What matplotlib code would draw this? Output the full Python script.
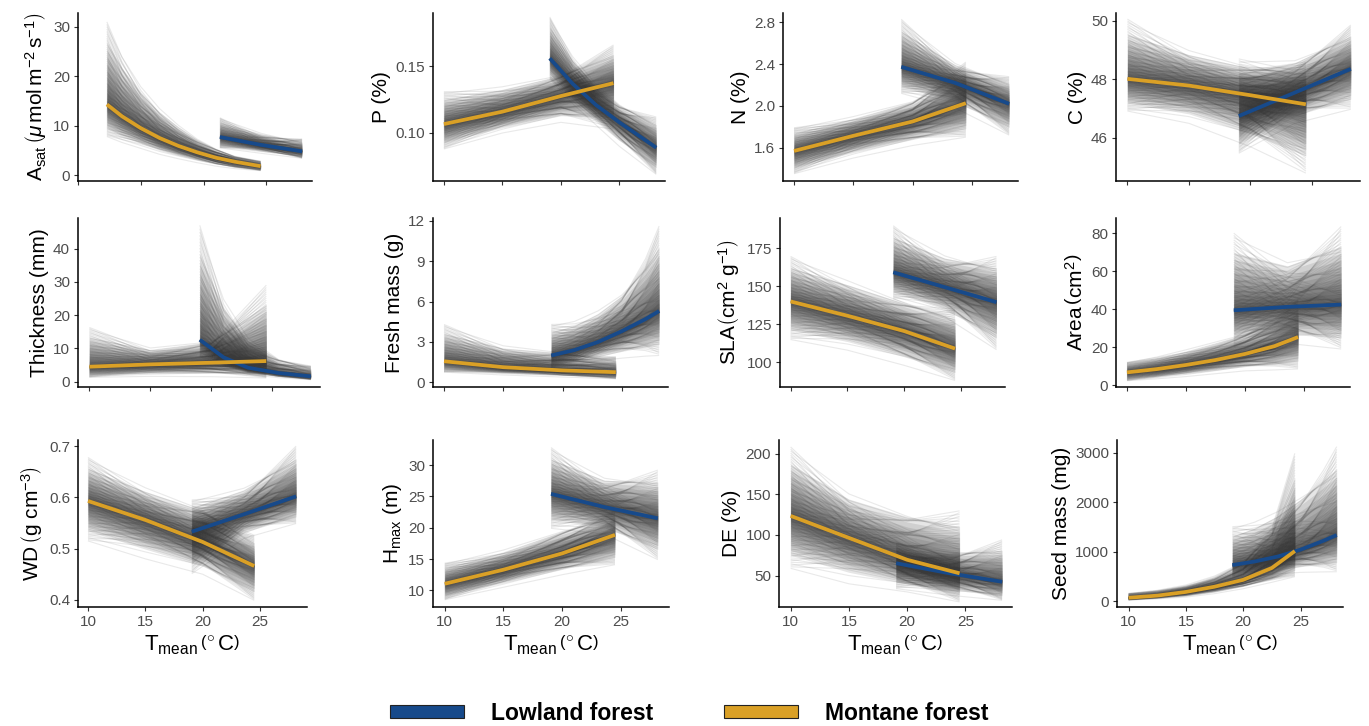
import numpy as np
import matplotlib
matplotlib.use('Agg')
import matplotlib.pyplot as plt
from matplotlib.patches import Patch
from matplotlib.collections import LineCollection

plt.rcParams['font.family'] = ['Liberation Sans', 'DejaVu Sans']
plt.rcParams['mathtext.fontset'] = 'custom'
plt.rcParams['mathtext.rm'] = 'Liberation Sans'
plt.rcParams['mathtext.it'] = 'Liberation Sans:italic'
plt.rcParams['mathtext.bf'] = 'Liberation Sans:bold'
plt.rcParams['mathtext.sf'] = 'Liberation Sans'

LOW_COL = '#174a8b'
MON_COL = '#daa026'

# ---------------- data ----------------
mon_x = [10, 15, 20, 24.5]
low_x = [19.05, 23.6, 28.15]

# A_sat
asat_mon_x = [12.3, 13.5, 15, 16.5, 18, 19.5, 21, 22.5, 24.55]
asat_mon_mean = [14.3, 11.9, 9.5, 7.5, 5.9, 4.6, 3.5, 2.7, 1.8]
asat_mon_lo = [7.8, 6.6, 5.4, 4.2, 3.3, 2.5, 1.8, 1.3, 0.9]
asat_mon_hi = [31.0, 25.0, 19.0, 14.5, 11.0, 8.0, 5.8, 4.0, 2.8]
asat_low_x = [21.3, 24.6, 27.85]
asat_low_mean = [7.7, 6.1, 4.8]
asat_low_lo = [5.5, 4.4, 3.4]
asat_low_hi = [11.6, 9.0, 7.3]

# P
p_mon_mean = [0.1067, 0.116, 0.1277, 0.1374]
p_mon_lo = [0.088, 0.100, 0.108, 0.103]
p_mon_hi = [0.131, 0.138, 0.148, 0.166]
p_low_x = [19.05, 21, 23, 25, 28.15]
p_low_mean = [0.156, 0.137, 0.121, 0.108, 0.089]
p_low_lo = [0.1405, 0.122, 0.106, 0.090, 0.069]
p_low_hi = [0.187, 0.160, 0.140, 0.125, 0.112]

# N
n_mon_mean = [1.568, 1.713, 1.85, 2.026]
n_mon_lo = [1.35, 1.50, 1.62, 1.70]
n_mon_hi = [1.79, 1.93, 2.10, 2.42]
n_low_mean = [2.374, 2.22, 2.02]
n_low_lo = [2.12, 1.98, 1.72]
n_low_hi = [2.83, 2.45, 2.28]

# C
c_mon_mean = [48.02, 47.79, 47.46, 47.15]
c_mon_lo = [46.92, 46.5, 45.7, 44.8]
c_mon_hi = [50.06, 49.2, 48.7, 48.6]
c_low_mean = [46.75, 47.55, 48.36]
c_low_lo = [45.48, 46.5, 46.98]
c_low_hi = [48.7, 48.9, 49.86]

# Thickness
th_mon_mean = [4.5, 5.2, 5.7, 6.2]
th_mon_lo = [1.3, 1.6, 1.5, 1.1]
th_mon_hi = [16.3, 11.0, 14.0, 29.0]
th_low_x = [19.05, 21, 23, 25.5, 28.15]
th_low_mean = [12.6, 7.3, 4.2, 2.6, 1.6]
th_low_lo = [7.5, 4.0, 2.2, 1.2, 0.6]
th_low_hi = [47.0, 27.0, 15.0, 8.0, 4.7]

# Fresh mass
fm_mon_mean = [1.57, 1.13, 0.89, 0.76]
fm_mon_lo = [0.76, 0.55, 0.40, 0.27]
fm_mon_hi = [4.3, 3.0, 2.6, 1.9]
fm_low_x = [19.05, 21, 23, 25, 27, 28.15]
fm_low_mean = [2.0, 2.4, 3.0, 3.8, 4.7, 5.3]
fm_low_lo = [1.1, 1.3, 1.6, 1.8, 1.95, 2.0]
fm_low_hi = [4.3, 4.8, 5.8, 7.3, 9.8, 11.6]

# SLA
sla_mon_mean = [140.1, 130.7, 120.6, 109.0]
sla_mon_lo = [115, 108, 98, 88]
sla_mon_hi = [169.8, 158, 145, 135]
sla_low_mean = [159.3, 149.5, 139.6]
sla_low_lo = [141.9, 130, 108.3]
sla_low_hi = [190, 175, 169.8]

# Area
ar_mon_x = [10, 12.5, 15, 17.5, 20, 22.5, 24.5]
ar_mon_mean = [6.7, 8.4, 10.6, 13.2, 16.4, 20.5, 25.3]
ar_mon_lo = [2.3, 3.3, 4.5, 6.0, 7.5, 8.0, 8.5]
ar_mon_hi = [12, 15.5, 20, 25, 30, 37, 45]
ar_low_mean = [39.4, 41.2, 42.4]
ar_low_lo = [20, 22, 19]
ar_low_hi = [80, 70, 83.5]

# WD
wd_mon_mean = [0.593, 0.556, 0.513, 0.466]
wd_mon_lo = [0.515, 0.48, 0.45, 0.399]
wd_mon_hi = [0.678, 0.63, 0.595, 0.526]
wd_low_mean = [0.533, 0.567, 0.602]
wd_low_lo = [0.451, 0.52, 0.549]
wd_low_hi = [0.595, 0.63, 0.70]

# H_max
hm_mon_mean = [11.06, 13.3, 15.9, 18.86]
hm_mon_lo = [8.5, 10.5, 12.5, 14.1]
hm_mon_hi = [14.35, 17.0, 20.5, 22.8]
hm_low_mean = [25.4, 23.3, 21.5]
hm_low_lo = [19.9, 19.0, 14.9]
hm_low_hi = [32.8, 29.0, 29.2]

# DE
de_mon_mean = [123.4, 96.4, 69.5, 52.9]
de_mon_lo = [59, 40, 30, 17.7]
de_mon_hi = [208, 160, 140, 129.6]
de_low_mean = [65.3, 53, 42.5]
de_low_lo = [34, 26, 19.7]
de_low_hi = [90, 85, 94]

# Seed mass
sd_mon_x = [10, 12.5, 15, 17.5, 20, 22.5, 24.5]
sd_mon_mean = [67, 110, 185, 290, 430, 670, 1011]
sd_mon_lo = [20, 45, 80, 150, 250, 380, 492]
sd_mon_hi = [155, 230, 350, 560, 900, 1600, 2987]
sd_low_x = [19.05, 21, 23, 25, 27, 28.15]
sd_low_mean = [728, 800, 900, 1040, 1220, 1335]
sd_low_lo = [492, 520, 550, 580, 590, 593]
sd_low_hi = [1504, 1700, 2000, 2400, 2850, 3122]

ylabels = [
    r'$\mathrm{A_{sat}}\,\left(\mu\,\mathrm{mol\,m^{-2}\,s^{-1}}\right)$',
    'P (%)', 'N (%)', 'C (%)',
    'Thickness (mm)', 'Fresh mass (g)',
    r'SLA$\left(\mathrm{cm^{2}\ g^{-1}}\right)$',
    r'Area$\,\left(\mathrm{cm^{2}}\right)$',
    r'WD$\,\left(\mathrm{g\ cm^{-3}}\right)$',
    r'$\mathrm{H_{max}}\ (\mathrm{m})$',
    'DE (%)', 'Seed mass (mg)',
]
yticks = [
    ([0, 10, 20, 30], ['0', '10', '20', '30']),
    ([0.10, 0.15], ['0.10', '0.15']),
    ([1.6, 2.0, 2.4, 2.8], ['1.6', '2.0', '2.4', '2.8']),
    ([46, 48, 50], ['46', '48', '50']),
    ([0, 10, 20, 30, 40], ['0', '10', '20', '30', '40']),
    ([0, 3, 6, 9, 12], ['0', '3', '6', '9', '12']),
    ([100, 125, 150, 175], ['100', '125', '150', '175']),
    ([0, 20, 40, 60, 80], ['0', '20', '40', '60', '80']),
    ([0.4, 0.5, 0.6, 0.7], ['0.4', '0.5', '0.6', '0.7']),
    ([10, 15, 20, 25, 30], ['10', '15', '20', '25', '30']),
    ([50, 100, 150, 200], ['50', '100', '150', '200']),
    ([0, 1000, 2000, 3000], ['0', '1000', '2000', '3000']),
]
xticks = [10, 15, 20, 25]

# ---------------- layout ----------------
W, H = 1369, 726
fig = plt.figure(figsize=(W / 100, H / 100), dpi=100)

rects = [  # left, top, right, bottom in pixels
    (78, 13, 312, 181), (433, 13, 665, 181), (783, 13, 1018, 181), (1116, 13, 1360, 181),
    (78, 218, 320, 387), (433, 218, 668, 387), (780, 218, 1005, 387), (1116, 218, 1350, 387),
    (78, 440, 307, 607), (433, 440, 669, 607), (779, 440, 1012, 607), (1117, 440, 1343, 607),
]
xlims = [(11.58, 28.64)] + [(9.07, 28.9)] * 7 + [(9.13, 29.1), (9.0, 29.1), (9.0, 29.0), (8.99, 28.7)]
ylims = [(-1.2, 32.8), (0.064, 0.19), (1.28, 2.89), (44.53, 50.27),
         (-1.6, 49.2), (-0.34, 12.2), (83.7, 195.1), (-1.0, 88.0),
         (0.386, 0.712), (7.35, 34.0), (11.5, 216.6), (-120, 3257)]

panels = [
    ((asat_mon_x, asat_mon_mean, asat_mon_lo, asat_mon_hi), (asat_low_x, asat_low_mean, asat_low_lo, asat_low_hi)),
    ((mon_x, p_mon_mean, p_mon_lo, p_mon_hi), (p_low_x, p_low_mean, p_low_lo, p_low_hi)),
    ((mon_x, n_mon_mean, n_mon_lo, n_mon_hi), (low_x, n_low_mean, n_low_lo, n_low_hi)),
    ((mon_x, c_mon_mean, c_mon_lo, c_mon_hi), (low_x, c_low_mean, c_low_lo, c_low_hi)),
    ((mon_x, th_mon_mean, th_mon_lo, th_mon_hi), (th_low_x, th_low_mean, th_low_lo, th_low_hi)),
    ((mon_x, fm_mon_mean, fm_mon_lo, fm_mon_hi), (fm_low_x, fm_low_mean, fm_low_lo, fm_low_hi)),
    ((mon_x, sla_mon_mean, sla_mon_lo, sla_mon_hi), (low_x, sla_low_mean, sla_low_lo, sla_low_hi)),
    ((ar_mon_x, ar_mon_mean, ar_mon_lo, ar_mon_hi), (low_x, ar_low_mean, ar_low_lo, ar_low_hi)),
    ((mon_x, wd_mon_mean, wd_mon_lo, wd_mon_hi), (low_x, wd_low_mean, wd_low_lo, wd_low_hi)),
    ((mon_x, hm_mon_mean, hm_mon_lo, hm_mon_hi), (low_x, hm_low_mean, hm_low_lo, hm_low_hi)),
    ((mon_x, de_mon_mean, de_mon_lo, de_mon_hi), (low_x, de_low_mean, de_low_lo, de_low_hi)),
    ((sd_mon_x, sd_mon_mean, sd_mon_lo, sd_mon_hi), (sd_low_x, sd_low_mean, sd_low_lo, sd_low_hi)),
]

# deterministic fan of draw offsets (fraction of envelope at start / end)
N_DRAWS = 110
_u = np.linspace(-1, 1, N_DRAWS)
F0 = np.sign(_u) * np.abs(_u) ** 1.6
F1 = F0[(np.arange(N_DRAWS) * 41) % N_DRAWS]
N_LAYERS = 12


def draws(ax, x, mean, lo, hi):
    x = np.asarray(x, float)
    mean = np.asarray(mean, float)
    lo = np.asarray(lo, float)
    hi = np.asarray(hi, float)
    # dense core of the draws
    for k in range(1, N_LAYERS + 1):
        s = 0.75 * (k / N_LAYERS) ** 1.5
        ax.fill_between(x, mean - s * (mean - lo), mean + s * (hi - mean),
                        color='#333333', alpha=0.12, lw=0, zorder=1)
    # individual draws
    t = (x - x[0]) / (x[-1] - x[0])
    segs = []
    for f0, f1 in zip(F0, F1):
        f = f0 * (1 - t) + f1 * t
        y = np.where(f >= 0, mean + f * (hi - mean), mean + f * (mean - lo))
        segs.append(np.column_stack([x, y]))
    lc = LineCollection(segs, colors='#3a3a3a', alpha=0.11, linewidths=0.8, zorder=2)
    ax.add_collection(lc)


for i, (rect, (mon, low)) in enumerate(zip(rects, panels)):
    l, t, r, b = rect
    ax = fig.add_axes([l / W, 1 - b / H, (r - l) / W, (b - t) / H])
    draws(ax, *mon)
    draws(ax, *low)
    ax.plot(low[0], low[1], color=LOW_COL, lw=2.7, zorder=3, solid_capstyle='butt')
    ax.plot(mon[0], mon[1], color=MON_COL, lw=2.7, zorder=4, solid_capstyle='butt')
    ax.set_xlim(*xlims[i])
    ax.set_ylim(*ylims[i])
    ax.set_xticks(xticks)
    ax.set_yticks(yticks[i][0])
    ax.set_yticklabels(yticks[i][1])
    for s in ['top', 'right']:
        ax.spines[s].set_visible(False)
    for s in ['left', 'bottom']:
        ax.spines[s].set_linewidth(1.1)
        ax.spines[s].set_color('black')
    ax.tick_params(direction='out', length=3.2, width=0.8, color='#333333',
                   labelsize=11, labelcolor='#4d4d4d', pad=2.5)
    ax.set_ylabel(ylabels[i], fontsize=15, labelpad=3)
    if i < 8:
        ax.tick_params(labelbottom=False)
    else:
        ax.set_xlabel(r'$\mathrm{T_{mean}}\,\left(^{\circ}\,\mathrm{C}\right)$', fontsize=16, labelpad=3)

handles = [Patch(facecolor=LOW_COL, edgecolor='#222222', linewidth=0.8),
           Patch(facecolor=MON_COL, edgecolor='#222222', linewidth=0.8)]
fig.legend(handles, ['Lowland forest', 'Montane forest'], loc='center',
           bbox_to_anchor=(0.5 + 5 / W, 1 - 713 / H), ncol=2, frameon=False,
           prop={'weight': 'bold', 'size': 16.5}, handlelength=3.2, handleheight=0.5,
           handletextpad=1.2, columnspacing=3.1)

fig.savefig('out.png', dpi=100)
